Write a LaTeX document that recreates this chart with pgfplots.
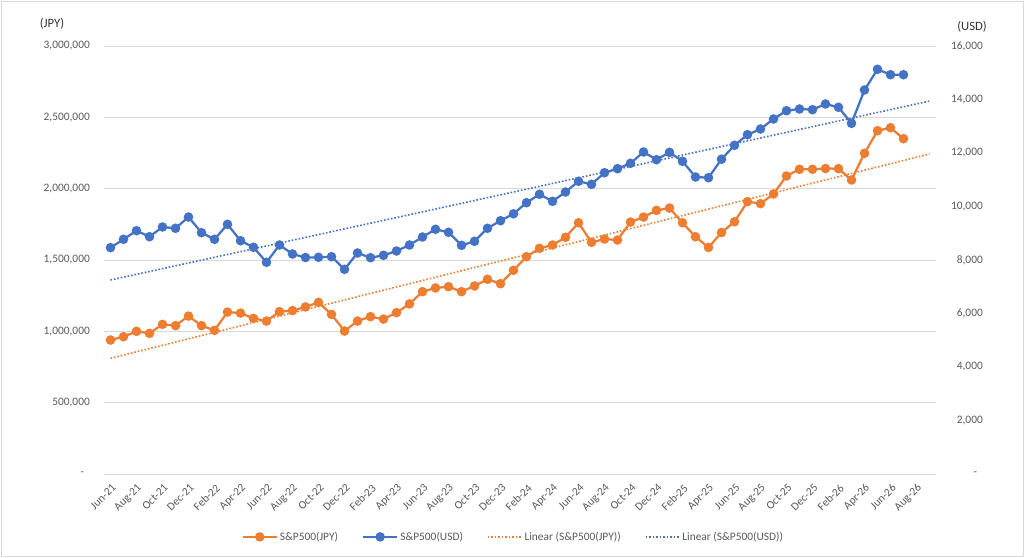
\documentclass[border=0pt]{standalone}
\usepackage{pgfplots}
\pgfplotsset{compat=1.18}
\usepackage{fontspec}
\setmainfont{Carlito}
\definecolor{jpy}{HTML}{ED7D31}
\definecolor{usd}{HTML}{4472C4}
\definecolor{gridc}{HTML}{D9D9D9}
\definecolor{txt}{HTML}{595959}

\pgfplotstableread{
i v
0 939000
1 962000
2 1000000
3 986000
4 1049000
5 1040000
6 1107000
7 1040000
8 1007000
9 1135000
10 1128000
11 1091000
12 1072000
13 1138000
14 1145000
15 1171000
16 1203000
17 1119000
18 1002000
19 1072000
20 1103000
21 1086000
22 1131000
23 1192000
24 1278000
25 1304000
26 1313000
27 1278000
28 1318000
29 1365000
30 1334000
31 1428000
32 1523000
33 1582000
34 1605000
35 1659000
36 1761000
37 1624000
38 1647000
39 1640000
40 1766000
41 1801000
42 1848000
43 1864000
44 1761000
45 1663000
46 1588000
47 1693000
48 1768000
49 1909000
50 1895000
51 1963000
52 2089000
53 2136000
54 2136000
55 2141000
56 2140000
57 2061000
58 2248000
59 2406000
60 2427000
61 2350000
}\jpytable

\pgfplotstableread{
i v
0 8460
1 8774
2 9095
3 8871
4 9234
5 9185
6 9607
7 9021
8 8774
9 9334
10 8721
11 8475
12 7914
13 8561
14 8224
15 8093
16 8101
17 8123
18 7652
19 8262
20 8086
21 8176
22 8336
23 8561
24 8860
25 9148
26 9035
27 8549
28 8699
29 9185
30 9469
31 9727
32 10142
33 10456
34 10194
35 10542
36 10942
37 10830
38 11263
39 11413
40 11615
41 12037
42 11749
43 12026
44 11690
45 11103
46 11077
47 11768
48 12288
49 12684
50 12897
51 13271
52 13581
53 13645
54 13619
55 13832
56 13708
57 13110
58 14355
59 15129
60 14927
61 14927
}\usdtable

\pgfplotsset{
  base/.style={
    scale only axis, width=832pt, height=428pt,
    xmin=-0.5, xmax=63.5,
    axis line style={draw=none},
    major tick length=0pt,
    scaled y ticks=false,
    tick label style={font=\fontsize{11.4}{13.7}\selectfont, text=txt, inner sep=0pt},
    legend image code/.code={\draw[mark repeat=2,mark phase=2,##1] plot coordinates {(0pt,0pt) (17pt,0pt) (34pt,0pt)};},
  },
  dataline/.style={line width=2.25pt, mark=*, mark size=3.6pt, mark options={solid}},
  trendline/.style={line width=1.6pt, dash pattern=on 1.6pt off 1.9pt},
}

\begin{document}
\begin{tikzpicture}[x=1pt,y=1pt]
\begin{axis}[base,
  ymin=0, ymax=3000000,
  ytick={0,500000,1000000,1500000,2000000,2500000,3000000},
  yticklabels={{-\hphantom{0}},{500,000},{1,000,000},{1,500,000},{2,000,000},{2,500,000},{3,000,000}},
  yticklabel style={anchor=east, xshift=-14pt},
  ymajorgrids, grid style={gridc, line width=0.75pt},
  xtick={0,2,...,62},
  xticklabels={Jun-21,Aug-21,Oct-21,Dec-21,Feb-22,Apr-22,Jun-22,Aug-22,Oct-22,Dec-22,Feb-23,Apr-23,Jun-23,Aug-23,Oct-23,Dec-23,Feb-24,Apr-24,Jun-24,Aug-24,Oct-24,Dec-24,Feb-25,Apr-25,Jun-25,Aug-25,Oct-25,Dec-25,Feb-26,Apr-26,Jun-26,Aug-26},
  xticklabel style={rotate=45, anchor=east, xshift=-6pt, yshift=-11pt},
]
\coordinate (O) at (rel axis cs:0,0);
\addplot[jpy, dataline] table[x=i, y=v] {\jpytable};
\addplot[jpy, trendline] coordinates {(0,811000) (63,2243000)};
\end{axis}

\begin{axis}[base,
  axis y line*=right,
  ymin=0, ymax=16000,
  ytick={0,2000,4000,6000,8000,10000,12000,14000,16000},
  yticklabels={{-\hphantom{0}},{2,000},{4,000},{6,000},{8,000},{10,000},{12,000},{14,000},{16,000}},
  yticklabel style={anchor=east, xshift=47pt},
  xtick=\empty,
  legend columns=4,
  legend style={draw=none, fill=none, at={(0.492,-0.147)}, anchor=center,
    font=\fontsize{11.4}{13.7}\selectfont, text=txt,
    /tikz/every even column/.append style={column sep=22pt},
    nodes={inner sep=2pt}},
]
\addlegendimage{jpy, dataline}
\addlegendentry{S\&P500(JPY)}
\addplot[usd, dataline] table[x=i, y=v] {\usdtable};
\addlegendentry{S\&P500(USD)}
\addlegendimage{jpy, trendline}
\addlegendentry{Linear (S\&P500(JPY))}
\addplot[usd, trendline] coordinates {(0,7252) (63,13940)};
\addlegendentry{Linear (S\&P500(USD))}
\end{axis}

\node[font=\fontsize{12.7}{15}\selectfont, text=black!80] at ([shift={(-52,450)}]O) {(JPY)};
\node[font=\fontsize{12.7}{15}\selectfont, text=black!80] at ([shift={(868,447)}]O) {(USD)};
\draw[gridc, line width=0.75pt] ([shift={(-103,-82)}]O) rectangle ([shift={(919,473)}]O);
\pgfresetboundingbox
\useasboundingbox ([shift={(-104,-83)}]O) rectangle ([shift={(920,474)}]O);
\end{tikzpicture}
\end{document}
